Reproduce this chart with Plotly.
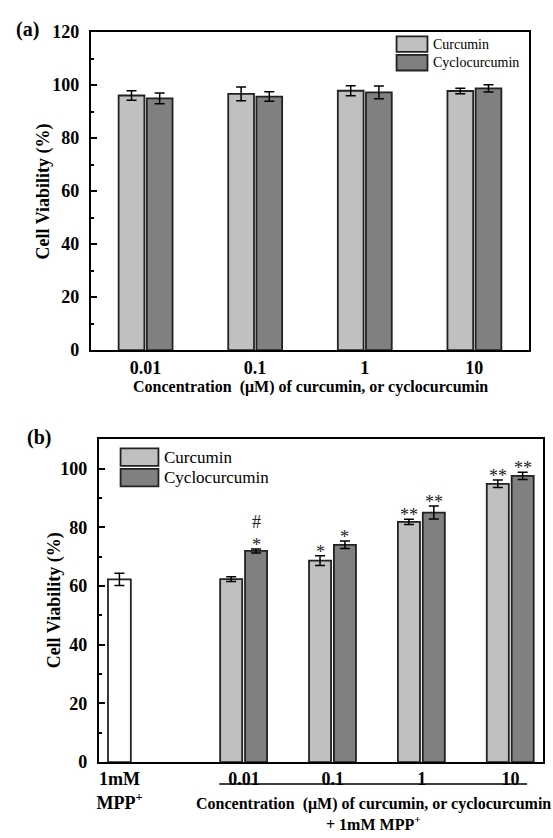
import plotly.graph_objects as go

# ---------------- data ----------------
# Panel (a)
conc_a = ["0.01", "0.1", "1", "10"]
cur_a = [96.1, 96.7, 97.9, 97.8]
cur_a_err = [1.8, 2.6, 1.9, 1.0]
cyc_a = [95.0, 95.7, 97.3, 98.8]
cyc_a_err = [2.0, 1.8, 2.4, 1.4]

# Panel (b)
ctrl_label = "1mM<br>MPP<sup>+</sup>"
ctrl_b = [62.3]
ctrl_b_err = [2.1]
conc_b = ["0.01", "0.1", "1", "10"]
cur_b = [62.4, 68.7, 81.9, 94.9]
cur_b_err = [0.8, 1.7, 0.9, 1.3]
cyc_b = [72.0, 74.1, 85.1, 97.6]
cyc_b_err = [0.7, 1.3, 2.2, 1.2]
cur_b_sig = ["", "*", "**", "**"]
cyc_b_sig = ["#<br>*", "*", "**", "**"]

series_names = ["Curcumin", "Cyclocurcumin"]
# ---------------------------------------

W, H = 553, 838
LIGHT = "#c0c0c0"
DARK = "#808080"
EDGE = "#222222"
SERIF = "Liberation Serif, Times New Roman, serif"

def px(x):
    return x / W

def py(y):
    return 1 - y / H

# x positions for panel (b) on a numeric axis
ctrl_pos = [0.0]
grp_pos = [1.4 + i for i in range(len(conc_b))]

bw_a, off_cur_a, off_cyc_a = 0.235, -0.245, 0.012
bw_b, off_cur_b, off_cyc_b = 0.248, -0.268, 0.012

err_style = dict(type="data", visible=True, color="black", thickness=1.5, width=5)
edge = dict(color=EDGE, width=1.8)

fig = go.Figure()

# Panel (a)
fig.add_trace(go.Bar(x=conc_a, y=cur_a, name=series_names[0], width=bw_a, offset=off_cur_a,
                     marker=dict(color=LIGHT, line=edge),
                     error_y=dict(array=cur_a_err, **err_style), xaxis="x", yaxis="y",
                     showlegend=False))
fig.add_trace(go.Bar(x=conc_a, y=cyc_a, name=series_names[1], width=bw_a, offset=off_cyc_a,
                     marker=dict(color=DARK, line=edge),
                     error_y=dict(array=cyc_a_err, **err_style), xaxis="x", yaxis="y",
                     showlegend=False))

# Panel (b)
fig.add_trace(go.Bar(x=ctrl_pos, y=ctrl_b, name="1mM MPP+", width=0.257, offset=-0.13,
                     marker=dict(color="white", line=edge),
                     error_y=dict(array=ctrl_b_err, **err_style), xaxis="x2", yaxis="y2",
                     showlegend=False))
fig.add_trace(go.Bar(x=grp_pos, y=cur_b, name=series_names[0], width=bw_b, offset=off_cur_b,
                     marker=dict(color=LIGHT, line=edge),
                     error_y=dict(array=cur_b_err, **err_style), xaxis="x2", yaxis="y2",
                     showlegend=False))
fig.add_trace(go.Bar(x=grp_pos, y=cyc_b, name=series_names[1], width=bw_b, offset=off_cyc_b,
                     marker=dict(color=DARK, line=edge),
                     error_y=dict(array=cyc_b_err, **err_style), xaxis="x2", yaxis="y2",
                     showlegend=False))

annotations = []
shapes = []

sig_font = dict(family=SERIF, size=18, color="#222")
# significance marks
for i, p in enumerate(grp_pos):
    xc = p + off_cur_b + bw_b / 2
    xd = p + off_cyc_b + bw_b / 2
    if cur_b_sig[i]:
        annotations.append(dict(x=xc, y=cur_b[i] + cur_b_err[i], xref="x2", yref="y2",
                                text=cur_b_sig[i], showarrow=False, xanchor="center",
                                yanchor="bottom", yshift=-8, font=sig_font))
    if cyc_b_sig[i]:
        annotations.append(dict(x=xd, y=cyc_b[i] + cyc_b_err[i], xref="x2", yref="y2",
                                text=cyc_b_sig[i], showarrow=False, xanchor="center",
                                yanchor="bottom", yshift=-8, font=sig_font))

# custom legends
def legend(x0, x1, ys, fs):
    for (y0, y1), col, name in zip(ys, [LIGHT, DARK], series_names):
        shapes.append(dict(type="rect", xref="paper", yref="paper",
                           x0=px(x0), x1=px(x1), y0=py(y1), y1=py(y0),
                           fillcolor=col, line=dict(color=EDGE, width=1.8)))
        annotations.append(dict(x=px(x1 + 4), y=py((y0 + y1) / 2), xref="paper", yref="paper",
                                text=name, showarrow=False, xanchor="left", yanchor="middle",
                                font=dict(family=SERIF, size=fs, color="black")))

legend(396, 427, [(27, 43), (46, 62)], 14)
legend(119, 157, [(449, 467), (470, 488)], 17)

# panel labels
annotations.append(dict(x=px(12), y=py(20), xref="paper", yref="paper", text="<b>(a)</b>",
                        showarrow=False, xanchor="left", yanchor="middle",
                        font=dict(family=SERIF, size=20, color="black")))
annotations.append(dict(x=px(23), y=py(438), xref="paper", yref="paper", text="<b>(b)</b>",
                        showarrow=False, xanchor="left", yanchor="middle",
                        font=dict(family=SERIF, size=20, color="black")))

# axis titles
ttl_font = dict(family=SERIF, size=18, color="black")
annotations.append(dict(x=px(42), y=py(186), xref="paper", yref="paper",
                        text="<b>Cell Viability (%)</b>", textangle=-90, showarrow=False,
                        xanchor="center", yanchor="middle", font=ttl_font))
annotations.append(dict(x=px(53), y=py(605), xref="paper", yref="paper",
                        text="<b>Cell Viability (%)</b>", textangle=-90, showarrow=False,
                        xanchor="center", yanchor="middle", font=ttl_font))
xt_font = dict(family=SERIF, size=16, color="black")
annotations.append(dict(x=px(310), y=py(386), xref="paper", yref="paper",
                        text="<b>Concentration  (μM) of curcumin, or cyclocurcumin</b>",
                        showarrow=False, xanchor="center", yanchor="middle", font=xt_font))
annotations.append(dict(x=px(373), y=py(813), xref="paper", yref="paper",
                        text="<b>Concentration  (μM) of curcumin, or cyclocurcumin</b>",
                        showarrow=False, xanchor="center", yanchor="middle", font=xt_font))
annotations.append(dict(x=px(373), y=py(833), xref="paper", yref="paper",
                        text="<b>+ 1mM MPP<sup>+</sup></b>",
                        showarrow=False, xanchor="center", yanchor="middle", font=xt_font))

# line under the concentration groups in (b)
shapes.append(dict(type="line", xref="paper", yref="paper", x0=px(218), x1=px(527),
                   y0=py(793), y1=py(793), line=dict(color="black", width=1.5)))

tick_font = dict(family=SERIF, size=18, color="black", weight="bold")
common_y = dict(ticks="inside", ticklen=7, tickwidth=1.5, tickcolor="black",
                showline=True, linecolor="black", linewidth=1.5, mirror=True,
                showgrid=False, zeroline=False, tickfont=tick_font,
                minor=dict(ticks="inside", ticklen=4, tickwidth=1.5, tickcolor="black", dtick=10),
                ticklabelstandoff=6)
common_x = dict(ticks="", showline=True, linecolor="black", linewidth=1.5, mirror=True,
                showgrid=False, zeroline=False, tickfont=tick_font)

fig.update_layout(
    width=W, height=H,
    margin=dict(l=0, r=0, t=0, b=0),
    paper_bgcolor="white", plot_bgcolor="white",
    barmode="overlay",
    showlegend=False,
    xaxis=dict(domain=[px(89), px(529)], range=[-0.5, 3.5], type="category",
               anchor="y", **common_x),
    yaxis=dict(domain=[py(348.5), py(22.7)], range=[0, 120], dtick=20, tick0=0,
               anchor="x", **common_y),
    xaxis2=dict(domain=[px(97), px(543)], range=[-0.235, 4.765],
                tickmode="array", tickvals=ctrl_pos + grp_pos,
                ticktext=[ctrl_label] + conc_b, anchor="y2", **common_x),
    yaxis2=dict(domain=[py(770.5), py(440)], range=[0, 110], tickmode="array",
                tickvals=[0, 20, 40, 60, 80, 100], anchor="x2", **common_y),
    annotations=annotations,
    shapes=shapes,
    font=dict(family=SERIF, color="black"),
)

fig.write_html("out.html", config={"displayModeBar": False},
               post_script="document.body.style.margin='0px';")
